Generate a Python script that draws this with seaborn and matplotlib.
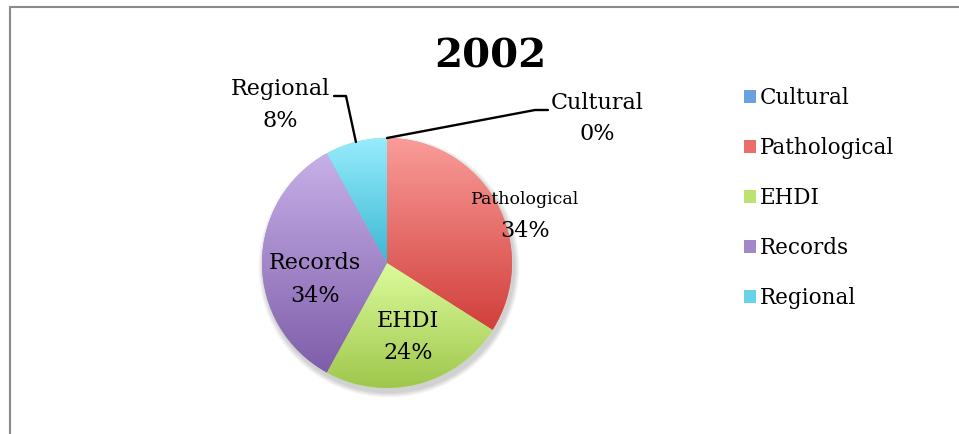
import matplotlib
matplotlib.use("Agg")
import matplotlib.pyplot as plt
import seaborn as sns
import numpy as np
from matplotlib.colors import to_rgb
from matplotlib.patches import Patch
from matplotlib.lines import Line2D

# data
categories = ['Cultural', 'Pathological', 'EHDI', 'Records', 'Regional']
shares = [0, 34, 24, 34, 8]
top_colours = ['#a4c8f7', '#fa9c99', '#dcfb9c', '#c7b0e8', '#97ecfc']
bottom_colours = ['#3b78c6', '#d13f3b', '#9fc74c', '#7e5da9', '#3bb8d4']
mid_colours = ['#6a9fe0', '#ec6e6a', '#bde274', '#a287c9', '#68d3e8']

W, H = 959, 434
sns.set_style('white')
plt.rcParams['font.family'] = ['DejaVu Serif']
plt.rcParams['text.color'] = 'black'

fig = plt.figure(figsize=(W / 100, H / 100), dpi=100)
ax = fig.add_axes([0, 0, 1, 1])

cx, cy, r = 387, H - 263, 125

# soft shadow below the pie
for k in range(6):
    ax.add_patch(plt.Circle((cx + 2, cy - 4), r + 1 + k * 0.9, color='#000000',
                            alpha=0.03, lw=0, zorder=0))

wedges, _ = ax.pie(shares, colors=mid_colours, startangle=90, counterclock=False,
                   center=(cx, cy), radius=r, wedgeprops=dict(linewidth=0))

# vertical gradient inside each slice
for w, c_top, c_bot in zip(wedges, top_colours, bottom_colours):
    if abs(w.theta2 - w.theta1) < 1e-6:
        continue
    ext = w.get_path().get_extents(w.get_patch_transform())
    t = np.linspace(0, 1, 200)[:, None, None]
    grad = (1 - t) * np.array(to_rgb(c_top)) + t * np.array(to_rgb(c_bot))
    im = ax.imshow(grad, extent=(ext.x0, ext.x1, ext.y0, ext.y1), origin='upper',
                   aspect='auto', zorder=2, interpolation='bilinear')
    im.set_clip_path(w)

ax.set_xlim(0, W)
ax.set_ylim(0, H)
ax.axis('off')

fig.text(490 / W, 1 - 57 / H, '2002', fontsize=29, fontweight='bold',
         ha='center', va='center')

def edge_point(w):
    mid = np.deg2rad((w.theta1 + w.theta2) / 2)
    return cx + r * np.cos(mid), cy + r * np.sin(mid)

# labels inside the slices
ax.text(525, H - 200, categories[1], fontsize=12.5, ha='center', va='center', zorder=5)
ax.text(525, H - 231, f'{shares[1]}%', fontsize=16, ha='center', va='center', zorder=5)
ax.text(408, H - 321, categories[2], fontsize=16, ha='center', va='center', zorder=5)
ax.text(408, H - 353, f'{shares[2]}%', fontsize=16, ha='center', va='center', zorder=5)
ax.text(315, H - 263, categories[3], fontsize=16, ha='center', va='center', zorder=5)
ax.text(315, H - 296, f'{shares[3]}%', fontsize=16, ha='center', va='center', zorder=5)

# outside labels with leader lines
ax.text(280, H - 89, categories[4], fontsize=16, ha='center', va='center')
ax.text(280, H - 121, f'{shares[4]}%', fontsize=16, ha='center', va='center')
ex, ey = edge_point(wedges[4])
ax.add_line(Line2D([334, 346, ex], [H - 96, H - 96, ey], color='black', lw=1.7, zorder=6))

ax.text(597, H - 103, categories[0], fontsize=16, ha='center', va='center')
ax.text(597, H - 134, f'{shares[0]}%', fontsize=16, ha='center', va='center')
ex, ey = edge_point(wedges[0])
ax.add_line(Line2D([548, 535, ex], [H - 110, H - 110, ey], color='black', lw=1.7, zorder=6))

handles = [Patch(facecolor=c, edgecolor='none') for c in mid_colours]
ax.legend(handles, categories, loc='upper left', bbox_to_anchor=(733, H - 76),
          bbox_transform=ax.transData, frameon=False, fontsize=15.5,
          handlelength=0.55, handleheight=0.55, handletextpad=0.2,
          labelspacing=1.3, borderpad=0)

# chart border (top and left visible)
fig.add_artist(Line2D([10 / W, 1], [1 - 7 / H, 1 - 7 / H], color='#8a8a8a', lw=1.5,
                      transform=fig.transFigure))
fig.add_artist(Line2D([10 / W, 10 / W], [0, 1 - 7 / H], color='#8a8a8a', lw=1.5,
                      transform=fig.transFigure))

fig.savefig('out.png', dpi=100, facecolor='white')
